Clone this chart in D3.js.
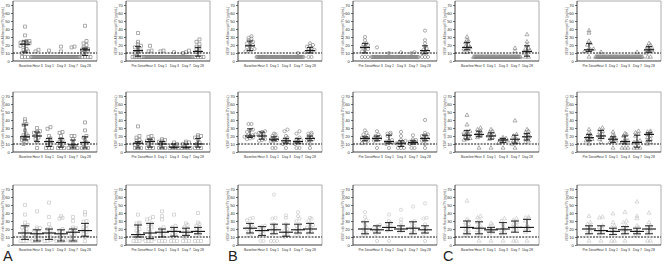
<!DOCTYPE html>
<html><head><meta charset="utf-8">
<script src="https://cdn.jsdelivr.net/npm/d3@7/dist/d3.min.js"></script>
<style>body{margin:0;background:#fff}svg{display:block}</style>
</head><body>
<script>
// ---------- categories & ticks ----------
const catsBaseline = ["Baseline","Hour 3","Day 1","Day 3","Day 7","Day 28"];
const catsPreDose  = ["Pre Dose","Hour 3","Day 1","Day 3","Day 7","Day 28"];
const yTicks = [0,10,20,30,40,50,60,70];
const rowTitles = ["VEGF with Aflibercept ITV (pg/mL)","VEGF with Bevacizumab ITV (pg/mL)","VEGF with Ranibizumab ITV (pg/mL)"];
const groupLabels = ["A","B","C"];
const threshold = 10;

// ---------- group A (squares) ----------
const aAfli1 = [[43,32,25,25,24,23,22,21,20,19,15,14,12,11,10,5,5,5],[14,12,5,5,5,5,5,5,5,5,5,5,5,5,5,5],[13,5,5,5,5,5,5,5,5,5,5,5,5,5,5],[18,12,5,5,5,5,5,5,5,5,5,5,5,5,5,5],[18,17,5,5,5,5,5,5,5,5,5,5,5,5,5,5],[44,25,22,20,17,15,15,14,13,12,10,5,5,5,5,5]];
const aAfli1Stats = [[21,11,25],null,null,null,null,[14,7,16]];
const aAfli2 = [[35,24,21,19,18,17,14,13,12,10,5,5,5,5,5,5],[19,13,12,5,5,5,5,5,5,5,5,5,5,5,5,5,5],[13,12,5,5,5,5,5,5,5,5,5,5,5,5,5,5],[11,5,5,5,5,5,5,5,5,5,5,5,5,5,5],[13,11,10,5,5,5,5,5,5,5,5,5,5,5,5,5,5],[27,24,21,18,17,15,12,11,5,5,5,5,5]];
const aAfli2Stats = [[13,6,18],null,null,null,null,[12,6,17]];
const aBeva1 = [[41,38,35,34,27,22,21,20,19,18,17,17,15,12,10],[30,26,25,24,22,20,18,16,13,5],[31,29,20,17,15,13,12,10,8,5,5,5],[25,24,20,16,15,13,10,8,5,5,5],[20,20,16,12,8,5,5,5,5],[37,27,20,18,15,12,10,5,5,5]];
const aBeva1Stats = [[19,15,34],[20,13,25],[13,7,17],[12,6,17],[9,5,15],[12,5,19]];
const aBeva2 = [[32,20,18,15,14,12,10,9,5,5,5],[20,19,16,15,14,12,10,5,5,5],[16,15,14,13,12,10,5,5,5],[12,10,9,8,5,5,5,5],[13,12,11,10,5,5,5,5],[21,20,19,18,15,12,10,5,5,5]];
const aBeva2Stats = [[11,5,13],[13,6,16],[10,5,13],[6,5,10],[6,5,10],[10,6,17]];
const aRani1 = [[50,38,28,25,24,22,20,18,16,14,12,10,8,5,5,5],[42,22,21,20,18,16,14,12,10,8,5,5,5],[53,35,26,21,20,18,16,14,12,8,6,5,5],[36,34,33,20,18,16,14,12,10,6,5,5,5],[35,30,22,21,20,18,16,14,12,10,5,5,5],[41,38,30,29,25,22,20,18,16,14,10,5]];
const aRani1Stats = [[15,7,24],[14,5,19],[15,7,20],[14,5,19],[16,5,20],[18,11,27]];
const aRani2 = [[38,28,27,26,24,20,18,15,12,10,8,5,5,5],[35,33,32,27,26,22,20,16,12,8,5,5,5],[42,36,32,22,20,18,16,14,12,5,5,5],[38,24,22,20,18,16,14,12,10,5,5,5],[27,25,22,20,18,16,14,12,10,5,5,5],[40,28,26,24,22,20,18,16,14,12,5,5,5]];
const aRani2Stats = [[13,10,25],[15,8,27],[16,10,20],[17,11,22],[16,12,21],[17,14,22]];

// ---------- group B (circles) ----------
const bAfli1 = [[31,29,28,26,24,22,22,20,18,17,15,14,13,12],[5,5,5,5,5,5,5,5,5,5,5,5,5,5],[5,5,5,5,5,5,5,5,5,5,5,5,5,5],[5,5,5,5,5,5,5,5,5,5,5,5,5,5],[10,5,5,5,5,5,5,5,5,5,5,5,5,5,5],[22,20,19,18,16,15,14,13,12,11,5,5]];
const bAfli1Stats = [[19,13,25],null,null,null,null,[13,10,17]];
const bAfli2 = [[30,26,22,21,20,18,17,15,14,12,5,5,5],[17,5,5,5,5,5,5,5,5,5,5,5,5,5,5],[10,5,5,5,5,5,5,5,5,5,5,5,5,5,5],[11,5,5,5,5,5,5,5,5,5,5,5,5,5,5],[11,10,5,5,5,5,5,5,5,5,5,5,5,5,5,5],[38,26,22,18,16,14,12,11,10,5,5,5]];
const bAfli2Stats = [[17,10,22],null,null,null,null,[13,9,19]];
const bBeva1 = [[35,35,28,27,25,22,21,20,20,19,18,17,16],[26,25,24,22,21,20,18,16,15,14],[23,22,20,18,17,16,15,14,13,5,5],[28,26,20,18,16,14,13,12,11,10,5],[26,23,18,16,15,14,13,12,11,10,5,5],[24,23,22,20,18,17,16,15,14,10,5]];
const bBeva1Stats = [[20,18,29],[20,16,25],[16,14,19],[14,11,17],[13,11,17],[17,14,20]];
const bBeva2 = [[27,24,22,20,19,18,17,16,15,14,12,11],[26,22,20,19,18,17,16,15,14,5],[24,23,22,20,15,14,13,12,11,10,5],[25,20,15,14,13,12,11,10,8,5,5,5],[21,16,15,14,13,12,11,10,5,5],[40,24,22,21,20,18,17,16,15,14,10,5]];
const bBeva2Stats = [[17,14,19],[17,14,20],[13,11,21],[11,7,14],[12,10,14],[17,14,21]];
const bRani1 = [[34,33,31,27,25,23,22,21,20,18,16,14,12],[24,23,22,20,19,18,16,14,12,5,5],[63,34,33,26,24,22,20,18,16,14,5,5,5],[37,34,26,23,20,18,16,14,12,10],[41,36,33,30,26,24,22,20,18,16,14,12],[34,33,30,27,25,23,22,20,18,16,14]];
const bRani1Stats = [[21,15,27],[18,12,23],[19,14,26],[16,11,26],[19,15,26],[20,15,27]];
const bRani2 = [[41,35,31,29,25,22,20,18,16,14,12],[25,24,22,20,19,18,16,14,5],[38,30,28,26,24,22,20,18,5],[44,32,28,24,22,20,18,16],[48,30,28,24,22,20,18,16,14],[52,34,33,26,22,20,18,16,14,5]];
const bRani2Stats = [[20,14,29],[19,15,24],[22,18,28],[20,17,24],[21,14,29],[19,15,24]];

// ---------- group C (triangles) ----------
const cAfli1 = [[30,26,25,23,20,18,17,16,15,12,11,11],[5,5,5,5,5,5,5,5,5,5,5,5,5,5],[5,5,5,5,5,5,5,5,5,5,5,5,5,5],[5,5,5,5,5,5,5,5,5,5,5,5,5,5],[16,12,5,5,5,5,5,5,5,5,5,5,5,5,5,5],[33,24,20,16,15,13,12,10,5,5]];
const cAfli1Stats = [[17,14,23],null,null,null,null,[12,6,19]];
const cAfli2 = [[38,35,25,22,20,15,14,13,12,5],[11,5,5,5,5,5,5,5,5,5,5,5,5,5,5],[5,5,5,5,5,5,5,5,5,5,5,5,5,5],[5,5,5,5,5,5,5,5,5,5,5,5,5,5],[11,5,5,5,5,5,5,5,5,5,5,5,5,5,5],[22,20,18,16,15,14,13,12,10,5,5]];
const cAfli2Stats = [[14,12,22],null,null,null,null,[14,11,18]];
const cBeva1 = [[46,34,26,25,24,22,21,20,18,17,16,15],[30,28,26,24,22,21,20,18,5],[28,26,24,22,21,20,18,16,5],[18,17,16,15,14,13,12,11,5],[39,22,20,16,14,12,11,10,5],[28,26,24,22,20,18,16,14,12]];
const cBeva1Stats = [[21,16,27],[22,19,26],[20,16,24],[15,12,17],[16,11,21],[19,15,23]];
const cBeva2 = [[28,24,22,20,18,17,16,15,14,10],[30,28,26,24,22,20,18,16,12],[25,21,20,18,16,15,14,13,12,5],[23,22,20,16,14,13,12,5,5,5],[26,24,22,20,14,13,12,5,5,5],[26,25,24,22,20,18,16,14,12,10]];
const cBeva2Stats = [[18,14,22],[20,17,27],[16,12,19],[13,10,20],[12,6,21],[22,14,24]];
const cRani1 = [[55,32,30,28,26,24,22,20,18,16,14,12],[36,34,30,28,24,22,20,18,14,12,5],[27,25,22,20,19,18,16,14,5],[33,30,26,22,20,18,16,14,5],[33,31,28,26,24,22,20,18,5,5],[35,34,33,30,25,22,20,18,16,5]];
const cRani1Stats = [[22,14,30],[21,14,29],[19,16,22],[20,14,28],[22,16,30],[22,17,32]];
const cRani2 = [[36,28,26,24,22,20,18,16,14,5],[35,34,24,22,20,18,16,14,5],[39,28,24,22,20,18,16,14,5,5],[41,30,28,24,22,20,18,16,14,5],[54,36,33,24,22,20,18,16,14,12],[40,28,24,22,20,18,16,14,5,5]];
const cRani2Stats = [[20,14,24],[18,14,24],[17,13,21],[19,14,23],[17,14,21],[20,14,24]];

// ---------- assembly ----------
const panels = [
  {g:0,col:0,row:0,vals:aAfli1,stats:aAfli1Stats},{g:0,col:1,row:0,vals:aAfli2,stats:aAfli2Stats},
  {g:0,col:0,row:1,vals:aBeva1,stats:aBeva1Stats},{g:0,col:1,row:1,vals:aBeva2,stats:aBeva2Stats},
  {g:0,col:0,row:2,vals:aRani1,stats:aRani1Stats},{g:0,col:1,row:2,vals:aRani2,stats:aRani2Stats},
  {g:1,col:0,row:0,vals:bAfli1,stats:bAfli1Stats},{g:1,col:1,row:0,vals:bAfli2,stats:bAfli2Stats},
  {g:1,col:0,row:1,vals:bBeva1,stats:bBeva1Stats},{g:1,col:1,row:1,vals:bBeva2,stats:bBeva2Stats},
  {g:1,col:0,row:2,vals:bRani1,stats:bRani1Stats},{g:1,col:1,row:2,vals:bRani2,stats:bRani2Stats},
  {g:2,col:0,row:0,vals:cAfli1,stats:cAfli1Stats},{g:2,col:1,row:0,vals:cAfli2,stats:cAfli2Stats},
  {g:2,col:0,row:1,vals:cBeva1,stats:cBeva1Stats},{g:2,col:1,row:1,vals:cBeva2,stats:cBeva2Stats},
  {g:2,col:0,row:2,vals:cRani1,stats:cRani1Stats},{g:2,col:1,row:2,vals:cRani2,stats:cRani2Stats}
];

const W = 664, H = 264;
const panelLefts = [[13,126],[238,353],[455,577]];
const panelW = 84;
const rowBottoms = [61,152,245];
const panelH = 60;
const groupLabelX = [3,228,443];

const svg = d3.select("body").append("svg").attr("width",W).attr("height",H)
  .style("font-family","'Liberation Sans', Arial, sans-serif");

function swarm(vals, cx, y){
  const sorted = vals.slice().sort((a,b)=>a-b);
  const bins = []; let cur = null;
  sorted.forEach(v=>{
    const py = y(v);
    if (cur && Math.abs(py - cur.py0) <= 2.4) cur.items.push(v);
    else { cur = {py0:py, items:[v]}; bins.push(cur); }
  });
  const pts = [];
  bins.forEach(b=>{
    const n = b.items.length;
    const w = Math.min((n-1)*3.0, 11);
    b.items.forEach((v,i)=>pts.push({x: n===1 ? cx : cx - w/2 + i*w/(n-1), v}));
  });
  return pts;
}

const symbols = [d3.symbolSquare, d3.symbolCircle, d3.symbolTriangle];
const symSizes = [9, 8, 7];

panels.forEach(p=>{
  const left = panelLefts[p.g][p.col];
  const bottom = rowBottoms[p.row];
  const top = bottom - panelH;
  const cats = p.col===0 ? catsBaseline : catsPreDose;
  const x = d3.scalePoint().domain(cats).range([left,left+panelW]).padding(1);
  const y = d3.scaleLinear().domain([0,75]).range([bottom,top]);
  const gP = svg.append("g");
  const markerColor = p.row===2 ? "#c4c4c4" : "#828282";

  // frame (top & right, gray)
  gP.append("path").attr("d",`M${left},${top}H${left+panelW}V${bottom}`)
    .attr("fill","none").attr("stroke","#9a9a9a").attr("stroke-width",0.8);

  // points
  const sym = d3.symbol().type(symbols[p.g]).size(symSizes[p.g]);
  cats.forEach((c,i)=>{
    const pts = swarm(p.vals[i], x(c), y);
    gP.selectAll(null).data(pts).join("path")
      .attr("d",sym)
      .attr("transform",d=>`translate(${d.x},${y(d.v)})`)
      .attr("fill","none").attr("stroke",markerColor).attr("stroke-width",0.65);
  });

  // threshold line
  gP.append("line").attr("x1",left).attr("x2",left+panelW)
    .attr("y1",y(threshold)).attr("y2",y(threshold))
    .attr("stroke","#111").attr("stroke-width",1).attr("stroke-dasharray","2,1.2");

  // median + IQR
  const mh = p.row===2 ? 7 : 5, ch = p.row===2 ? 4 : 3;
  cats.forEach((c,i)=>{
    const s = p.stats[i]; if(!s) return;
    const cx = x(c);
    const eg = gP.append("g").attr("stroke","#111").attr("stroke-width",0.9);
    eg.append("line").attr("x1",cx).attr("x2",cx).attr("y1",y(s[1])).attr("y2",y(s[2]));
    eg.append("line").attr("x1",cx-ch).attr("x2",cx+ch).attr("y1",y(s[1])).attr("y2",y(s[1]));
    eg.append("line").attr("x1",cx-ch).attr("x2",cx+ch).attr("y1",y(s[2])).attr("y2",y(s[2]));
    eg.append("line").attr("x1",cx-mh).attr("x2",cx+mh).attr("y1",y(s[0])).attr("y2",y(s[0])).attr("stroke-width",1.1);
  });

  // axes
  const yAx = gP.append("g").attr("transform",`translate(${left},0)`)
    .call(d3.axisLeft(y).tickValues(yTicks).tickSize(2).tickPadding(1.2));
  yAx.select(".domain").attr("stroke","#111").attr("stroke-width",0.8).attr("d",`M0,${bottom}V${top}`);
  yAx.selectAll(".tick line").attr("stroke","#111").attr("stroke-width",0.6);
  yAx.selectAll("text").attr("font-size",4.2).attr("fill","#333");

  const xAx = gP.append("g").attr("transform",`translate(0,${bottom})`)
    .call(d3.axisBottom(x).tickSize(0).tickPadding(3.5));
  xAx.select(".domain").attr("stroke","#111").attr("stroke-width",0.8).attr("d",`M${left},0H${left+panelW}`);
  xAx.selectAll("text").attr("font-size",3.4).attr("fill","#333");

  // y title
  gP.append("text")
    .attr("transform",`translate(${left-9.5},${(top+bottom)/2}) rotate(-90)`)
    .attr("text-anchor","middle").attr("font-size",3.2).attr("fill","#444")
    .text(rowTitles[p.row]);
});

// group labels
groupLabels.forEach((l,i)=>{
  svg.append("text").attr("x",groupLabelX[i]).attr("y",260.5)
    .attr("font-size",14.5).attr("fill","#222").text(l);
});
</script>
</body></html>
